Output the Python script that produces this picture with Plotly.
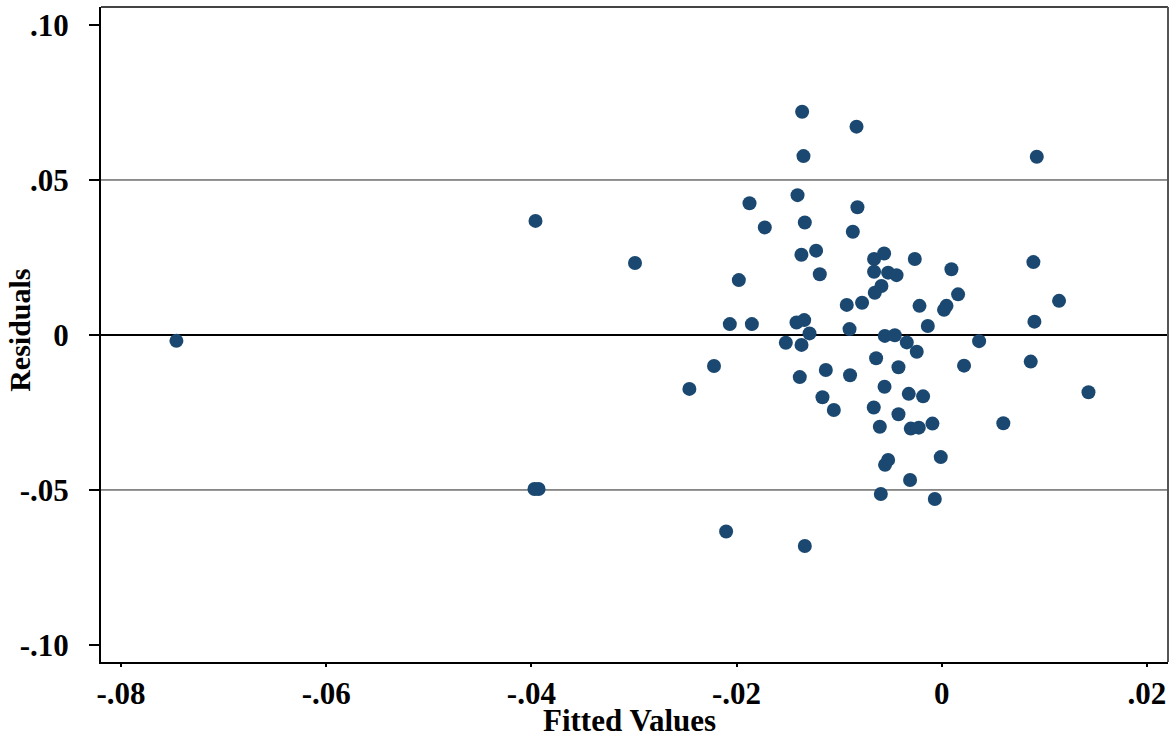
import plotly.graph_objects as go

# Fitted values (x) and residuals (y)
fitted = [
    -0.0746, -0.0396, -0.0397, -0.0393, -0.0299, -0.0246, -0.0222,
    -0.01361, -0.00831, -0.01348, -0.01406, -0.01874, -0.00822, -0.01725,
    -0.01335, -0.00867, -0.01368, -0.01225, -0.00660, -0.00562, -0.00263,
    0.00094, -0.01978, -0.01189, -0.00660, -0.00523, -0.00441, -0.00588,
    -0.00653, 0.00159, -0.00926, -0.00777, -0.00217, 0.00046, 0.00022,
    -0.02066, -0.01851, -0.01416, -0.01341, -0.01289, -0.00899, -0.00136,
    -0.01520, -0.01367, -0.00555, -0.00458, -0.00341, -0.00244, 0.00364,
    -0.00640, -0.00422, 0.00217, -0.01384, -0.01130, -0.00894, -0.00558,
    -0.01163, -0.01052, -0.00663, -0.00322, -0.00182, -0.00422, -0.00604,
    -0.00302, -0.00224, -0.00091, 0.00600, -0.00523, -0.00553, -0.00010,
    -0.00309, -0.00594, -0.00068, -0.02102, -0.01335,
    0.00926, 0.00893, 0.01143, 0.00903, 0.00867, 0.01430,
]
residuals = [
    -0.0019, 0.0368, -0.0497, -0.0497, 0.0232, -0.0174, -0.0100,
    0.0720, 0.0672, 0.0577, 0.0451, 0.0425, 0.0412, 0.0347,
    0.0363, 0.0333, 0.0259, 0.0272, 0.0245, 0.0263, 0.0245,
    0.0212, 0.0177, 0.0196, 0.0204, 0.0201, 0.0193, 0.0158,
    0.0136, 0.0131, 0.0097, 0.0104, 0.0094, 0.0094, 0.0081,
    0.0035, 0.0035, 0.0040, 0.0048, 0.0005, 0.0019, 0.0029,
    -0.0025, -0.0032, -0.0003, -0.0001, -0.0024, -0.0054, -0.0020,
    -0.0075, -0.0104, -0.0099, -0.0136, -0.0113, -0.0130, -0.0167,
    -0.0201, -0.0242, -0.0234, -0.0190, -0.0198, -0.0256, -0.0296,
    -0.0302, -0.0299, -0.0286, -0.0285, -0.0403, -0.0419, -0.0394,
    -0.0468, -0.0513, -0.0529, -0.0634, -0.0681,
    0.0575, 0.0235, 0.0110, 0.0043, -0.0086, -0.0185,
]

x_ticks = [-0.08, -0.06, -0.04, -0.02, 0.0, 0.02]
x_tick_labels = ["-.08", "-.06", "-.04", "-.02", "0", ".02"]
y_ticks = [-0.10, -0.05, 0.0, 0.05, 0.10]
y_tick_labels = ["-.10", "-.05", "0", ".05", ".10"]
ref_lines = [0.05, -0.05]

FONT = "Liberation Serif, Times New Roman, serif"
DOT = "#1b4870"

fig = go.Figure()
fig.add_trace(go.Scatter(
    x=fitted, y=residuals, mode="markers",
    marker=dict(size=14, color=DOT, line=dict(width=0)),
    showlegend=False, hoverinfo="x+y",
))

shapes = []
for v in ref_lines:
    shapes.append(dict(type="line", xref="paper", yref="y", x0=0, x1=1, y0=v, y1=v,
                       line=dict(color="#222222", width=1), layer="below"))
shapes.append(dict(type="line", xref="paper", yref="y", x0=0, x1=1, y0=0, y1=0,
                   line=dict(color="#000000", width=2), layer="below"))
# top and right frame
shapes.append(dict(type="line", xref="paper", yref="paper", x0=0, x1=1, y0=1, y1=1,
                   line=dict(color="#444444", width=2)))
shapes.append(dict(type="line", xref="paper", yref="paper", x0=1, x1=1, y0=0, y1=1,
                   line=dict(color="#555555", width=2)))

fig.update_layout(
    width=1176, height=742,
    margin=dict(l=101, r=8, t=7, b=80),
    paper_bgcolor="white", plot_bgcolor="white",
    font=dict(family=FONT, color="black", size=30, weight="bold"),
    shapes=shapes,
    annotations=[
        dict(text="Fitted Values", xref="paper", yref="paper", x=0.495, y=-0.090,
             xanchor="center", yanchor="middle", showarrow=False,
             font=dict(family=FONT, size=31, weight="bold", color="black")),
        dict(text="Residuals", xref="paper", yref="paper", x=-0.076, y=0.507,
             xanchor="center", yanchor="middle", showarrow=False, textangle=-90,
             font=dict(family=FONT, size=30, weight="bold", color="black")),
    ],
)
fig.update_xaxes(
    range=[-0.08195, 0.02205], tickvals=x_ticks, ticktext=x_tick_labels,
    showgrid=False, zeroline=False, showline=True, linecolor="black", linewidth=2,
    ticks="outside", ticklen=3, tickwidth=2, tickcolor="black",
    ticklabelstandoff=0,
    tickfont=dict(family=FONT, size=31, weight="bold", color="black"),
)
fig.update_yaxes(
    range=[-0.1055, 0.1058], tickvals=y_ticks, ticktext=y_tick_labels,
    showgrid=False, zeroline=False, showline=True, linecolor="black", linewidth=2,
    ticks="outside", ticklen=10, tickwidth=2, tickcolor="black",
    ticklabelstandoff=14,
    tickfont=dict(family=FONT, size=31, weight="bold", color="black"),
)

fig.write_html("out.html")
